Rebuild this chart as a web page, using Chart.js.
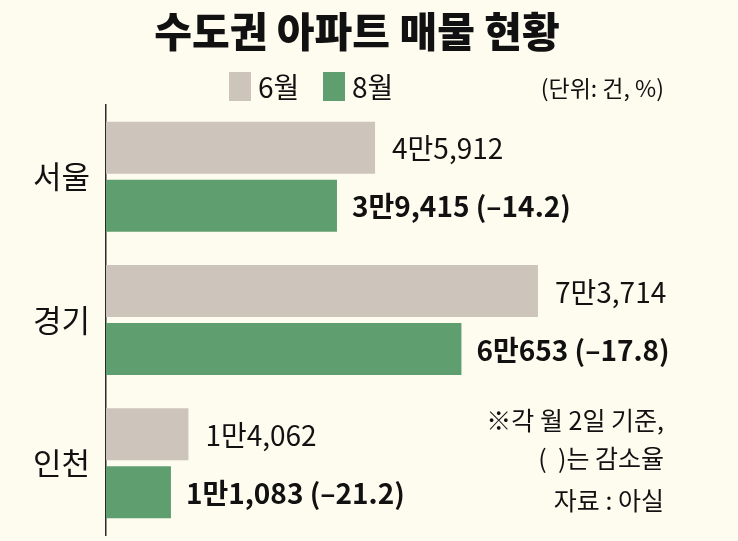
<!DOCTYPE html>
<html>
<head>
<meta charset="utf-8">
<script src="https://cdn.jsdelivr.net/npm/chart.js@4/dist/chart.umd.min.js"></script>
<style>
  html, body { margin: 0; padding: 0; background: #fefbef; }
  #wrap { width: 738px; height: 541px; position: relative; }
</style>
</head>
<body>
<div id="wrap"><canvas id="c" width="738" height="541"></canvas></div>
<script>
const title = '수도권 아파트 매물 현황';
const unitText = '(단위: 건, %)';
const categories = ['서울', '경기', '인천'];
const seriesNames = ['6월', '8월'];
const juneValues = [45912, 73714, 14062];
const augValues = [39415, 60653, 11083];
const changeRates = [-14.2, -17.8, -21.2];
const footnotes = ['※각 월 2일 기준,', '(  )는 감소율', '자료 : 아실'];

const colGray = '#cdc4bb';
const colGreen = '#5f9e6e';
const FONT = '"Noto Sans CJK KR", "Noto Sans", sans-serif';

function fmtMan(v) {
  const man = Math.floor(v / 10000);
  const rest = v % 10000;
  return man + '만' + rest.toLocaleString('en-US');
}

const textPlugin = {
  id: 'texts',
  afterDraw(chart) {
    const ctx = chart.ctx;
    ctx.save();
    ctx.fillStyle = '#111';
    // title
    ctx.font = '900 41px ' + FONT;
    ctx.textAlign = 'center';
    ctx.textBaseline = 'middle';
    ctx.fillText(title, 357, 31);
    // legend
    ctx.font = '28px ' + FONT;
    ctx.textAlign = 'left';
    const legendItems = [
      { x: 229, color: colGray, label: seriesNames[0] },
      { x: 323, color: colGreen, label: seriesNames[1] }
    ];
    legendItems.forEach(it => {
      ctx.fillStyle = it.color;
      ctx.fillRect(it.x, 72, 22, 29);
      ctx.fillStyle = '#111';
      ctx.fillText(it.label, it.x + 29, 87);
    });
    // unit
    ctx.font = '23px ' + FONT;
    ctx.textAlign = 'right';
    ctx.fillText(unitText, 664, 88);
    // value labels
    ctx.textAlign = 'left';
    const m0 = chart.getDatasetMeta(0);
    const m1 = chart.getDatasetMeta(1);
    m0.data.forEach((bar, i) => {
      ctx.font = '28px ' + FONT;
      ctx.fillText(fmtMan(juneValues[i]), bar.x + 17, bar.y + 1);
    });
    m1.data.forEach((bar, i) => {
      ctx.font = 'bold 28px ' + FONT;
      const r = changeRates[i];
      const txt = fmtMan(augValues[i]) + ' (' + (r < 0 ? '–' : '+') + Math.abs(r).toFixed(1) + ')';
      ctx.fillText(txt, bar.x + 15, bar.y + 1);
    });
    // footnotes
    ctx.font = '25px ' + FONT;
    ctx.textAlign = 'right';
    ctx.fillText(footnotes[0], 664, 420);
    ctx.fillText(footnotes[1], 664, 458);
    ctx.fillText(footnotes[2], 664, 500);
    ctx.restore();
  }
};

new Chart(document.getElementById('c'), {
  type: 'bar',
  data: {
    labels: categories,
    datasets: [
      { label: seriesNames[0], data: juneValues, backgroundColor: colGray,
        categoryPercentage: 0.8093, barPercentage: 0.8966 },
      { label: seriesNames[1], data: augValues, backgroundColor: colGreen,
        categoryPercentage: 0.8093, barPercentage: 0.8966 }
    ]
  },
  options: {
    indexAxis: 'y',
    responsive: false,
    animation: false,
    devicePixelRatio: 1,
    layout: { padding: { top: 105, bottom: 6, left: 0, right: 46 } },
    plugins: {
      legend: { display: false },
      title: { display: false },
      tooltip: { enabled: false }
    },
    scales: {
      x: { display: false, min: 0, max: 100000 },
      y: {
        display: true,
        grid: { display: false, drawTicks: false },
        border: { display: true, color: '#2a2a2a', width: 1.5 },
        ticks: { color: '#111', font: { family: FONT, size: 31 }, padding: 16 },
        afterFit(scale) {
          scale.width = 106;
          scale.paddingTop = 0;
          scale.paddingBottom = 0;
        }
      }
    }
  },
  plugins: [textPlugin, {
    id: 'bg',
    beforeDraw(chart) {
      const c = chart.ctx;
      c.save();
      c.fillStyle = '#fefbef';
      c.fillRect(0, 0, chart.width, chart.height);
      c.restore();
    }
  }]
});
</script>
</body>
</html>
